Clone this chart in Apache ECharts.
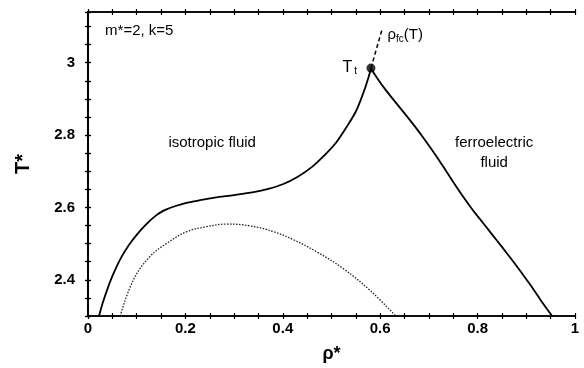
<!DOCTYPE html>
<html><head><meta charset="utf-8">
<script src="https://cdn.jsdelivr.net/npm/echarts@6/dist/echarts.min.js"></script>
<style>html,body{margin:0;padding:0;background:#fff}#c{width:584px;height:368px}</style>
</head><body><div id="c"></div>
<script>
// Axis ranges and tick labels
const xRange = [0, 1];
const yRange = [2.3, 3.14];
const xTickLabels = [0, 0.2, 0.4, 0.6, 0.8, 1];
const yTickLabels = [2.4, 2.6, 2.8, 3];

// Solid coexistence curve: isotropic-side branch (up to triple point)
const leftRho = [0.0226, 0.03, 0.04, 0.05, 0.06, 0.07, 0.08, 0.09, 0.10, 0.11, 0.12, 0.13, 0.14, 0.15, 0.16, 0.18, 0.20, 0.23, 0.26,
                 0.30, 0.34, 0.37, 0.40, 0.43, 0.46, 0.49, 0.51, 0.53, 0.55, 0.565, 0.575, 0.581];
const leftT   = [2.300, 2.335, 2.375, 2.410, 2.440, 2.466, 2.488, 2.507, 2.524, 2.540, 2.554, 2.567, 2.578, 2.587, 2.594, 2.604, 2.612, 2.620, 2.627,
                 2.634, 2.642, 2.651, 2.664, 2.684, 2.712, 2.750, 2.780, 2.820, 2.865, 2.915, 2.955, 2.984];
// Solid curve: ferroelectric-side branch (from triple point down)
const rightRho = [0.581, 0.595, 0.61, 0.63, 0.65, 0.67, 0.69, 0.71, 0.73, 0.75, 0.77, 0.79, 0.81, 0.83, 0.85, 0.87, 0.89, 0.91, 0.93, 0.953];
const rightT   = [2.984, 2.955, 2.927, 2.893, 2.860, 2.826, 2.790, 2.752, 2.712, 2.670, 2.630, 2.593, 2.559, 2.525, 2.491, 2.456, 2.420, 2.383, 2.343, 2.300];
// Dotted curve
const dotRho = [0.066, 0.093, 0.127, 0.162, 0.203, 0.244, 0.285, 0.333, 0.381, 0.420, 0.470, 0.524, 0.579, 0.632];
const dotT   = [2.30, 2.399, 2.464, 2.501, 2.533, 2.547, 2.554, 2.549, 2.533, 2.512, 2.477, 2.431, 2.371, 2.30];
// Dashed rho_fc(T) line
const fcRho = [0.581, 0.604];
const fcT   = [2.985, 3.093];
// Triple point
const tripleRho = 0.581, tripleT = 2.985;

const zip = (a, b) => a.map((v, i) => [v, b[i]]);
const near = (v, arr) => arr.some(a => Math.abs(a - v) < 1e-6);
const font = 'Liberation Sans, Arial, sans-serif';

function mkX(pos, inside, show) {
  return {
    type: 'value', position: pos, min: xRange[0], max: xRange[1], interval: 0.05,
    axisLine: { show: true, lineStyle: { color: '#000', width: 1.6 } },
    axisTick: { show: true, inside: inside, length: 3, lineStyle: { color: '#000', width: 1.2 } },
    axisLabel: show ? {
      show: true, margin: 5, color: '#000', fontSize: 15, fontWeight: 'bold', fontFamily: font,
      formatter: v => near(v, xTickLabels) ? String(+v.toFixed(2)) : ''
    } : { show: false },
    splitLine: { show: false },
    name: show ? 'ρ*' : '', nameLocation: 'middle', nameGap: 29,
    nameTextStyle: { color: '#000', fontSize: 18, fontWeight: 'bold', fontFamily: font }
  };
}
function mkY(pos, inside, show) {
  return {
    type: 'value', position: pos, min: yRange[0], max: yRange[1], interval: 0.05,
    axisLine: { show: true, lineStyle: { color: '#000', width: 1.6 } },
    axisTick: { show: true, inside: inside, length: 3, lineStyle: { color: '#000', width: 1.2 } },
    axisLabel: show ? {
      show: true, margin: 13, color: '#000', fontSize: 15, fontWeight: 'bold', fontFamily: font,
      formatter: v => near(v, yTickLabels) ? String(+v.toFixed(2)) : ''
    } : { show: false },
    splitLine: { show: false },
    name: show ? 'T*' : '', nameLocation: 'middle', nameGap: 55, nameRotate: 90,
    nameTextStyle: { color: '#000', fontSize: 20, fontWeight: 'bold', fontFamily: font }
  };
}

const chart = echarts.init(document.getElementById('c'), null, { renderer: 'canvas' });
const solidStyle = { color: '#000', width: 1.8 };
chart.setOption({
  animation: false,
  backgroundColor: '#fff',
  grid: { left: 88, right: 9, top: 12, bottom: 52, containLabel: false },
  xAxis: [mkX('bottom', true, true), mkX('bottom', false, false), mkX('top', true, false), mkX('top', false, false)],
  yAxis: [mkY('left', true, true), mkY('left', false, false), mkY('right', true, false), mkY('right', false, false)],
  series: [
    { type: 'line', data: zip(leftRho, leftT), smooth: 0.3, symbol: 'none', lineStyle: solidStyle },
    { type: 'line', data: zip(rightRho, rightT), smooth: 0.3, symbol: 'none', lineStyle: solidStyle },
    { type: 'line', data: zip(dotRho, dotT), smooth: 0.4, symbol: 'none',
      lineStyle: { color: '#222', width: 1.3, type: [1.5, 1.5] } },
    { type: 'line', data: zip(fcRho, fcT), symbol: 'none',
      lineStyle: { color: '#000', width: 1.5, type: [4, 3] } },
    { type: 'scatter', data: [[tripleRho, tripleT]], symbolSize: 9, itemStyle: { color: '#000' } }
  ]
});

function place(x, y) { return chart.convertToPixel({ xAxisIndex: 0, yAxisIndex: 0 }, [x, y]); }
const tf = { fontFamily: font, fill: '#000' };
const annos = [
  { at: [0.035, 3.087], text: 'm*=2, k=5', align: 'left', size: 15 },
  { at: [0.255, 2.779], text: 'isotropic fluid', align: 'center', size: 15 },
  { at: [0.834, 2.751], text: 'ferroelectric\nfluid', align: 'center', size: 15 },
];
const graphics = annos.map(a => {
  const p = place(a.at[0], a.at[1]);
  return { type: 'text', x: p[0], y: p[1], style: Object.assign({}, tf, {
    text: a.text, fontSize: a.size, align: a.align, verticalAlign: 'middle', lineHeight: 20 }) };
});
const pT = place(0.5524, 2.987);
graphics.push({ type: 'text', x: pT[0], y: pT[1], style: Object.assign({}, tf, {
  text: '{a|T}{b|t}', align: 'right', verticalAlign: 'middle',
  rich: { a: { fontSize: 16, fontFamily: font, fill: '#000' },
          b: { fontSize: 10, fontFamily: font, fill: '#000', padding: [8, 0, 0, 2] } } }) });
const pR = place(0.615, 3.076);
graphics.push({ type: 'text', x: pR[0], y: pR[1], style: Object.assign({}, tf, {
  text: '{a|ρ}{b|fc}{a|(T)}', align: 'left', verticalAlign: 'middle',
  rich: { a: { fontSize: 15, fontFamily: font, fill: '#000' },
          b: { fontSize: 10, fontFamily: font, fill: '#000', padding: [8, 0, 0, 0] } } }) });
chart.setOption({ graphic: graphics });
</script></body></html>
